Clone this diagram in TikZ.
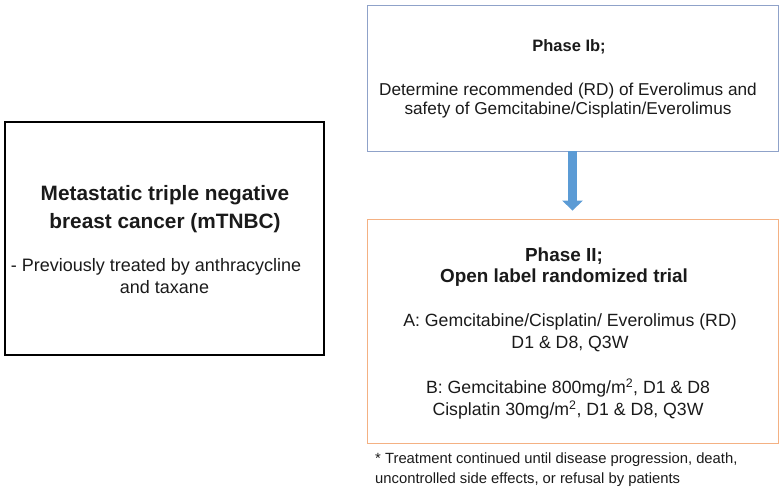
\documentclass[tikz,border=0pt]{standalone}
\usepackage{fontspec}
\setmainfont{Liberation Sans}
\usetikzlibrary{arrows.meta}
\definecolor{topedge}{HTML}{8FA2C9}
\definecolor{botedge}{HTML}{F4B183}
\definecolor{arrowblue}{HTML}{5B9BD5}
\definecolor{txt}{HTML}{1A1A1A}
\begin{document}
\begin{tikzpicture}[x=1pt,y=-1pt,
  box/.style={draw, inner sep=0pt},
  lbl/.style={align=center, inner sep=0pt, text=txt},
  boldbig/.style={lbl, font=\fontsize{20.8}{28}\selectfont\bfseries},
  boldmid/.style={lbl, font=\fontsize{18.9}{21}\selectfont\bfseries},
  boldsmall/.style={lbl, font=\fontsize{16.5}{19}\selectfont\bfseries},
  lefttext/.style={lbl, font=\fontsize{18}{22}\selectfont},
  regtext/.style={lbl, font=\fontsize{17.7}{22}\selectfont},
  toptext/.style={lbl, font=\fontsize{17.2}{19}\selectfont},
  flow/.style={draw=arrowblue, line width=9pt, -{Triangle[width=20pt,length=10pt]}, color=arrowblue}
]
\useasboundingbox (0,0) rectangle (783,497);
% left box
\node[box, line width=1.6pt, draw=black, minimum width=319pt, minimum height=233pt]
  (mtnbc) at (164.5,238.5) {};
\node[boldbig] (mtnbcT) at (165,209) {Metastatic triple negative\\ breast cancer (mTNBC)};
\node[lefttext, anchor=base] (mtnbcS1) at (156,271) {- Previously treated by anthracycline};
\node[lefttext, anchor=base] (mtnbcS2) at (164.5,293) {and taxane};
% top box
\node[box, line width=0.8pt, draw=topedge, minimum width=411pt, minimum height=146pt]
  (ph1) at (572.5,78) {};
\node[boldsmall] (ph1T) at (569,47) {Phase Ib;};
\node[toptext] (ph1S) at (568,101) {Determine recommended (RD) of Everolimus and\\ safety of Gemcitabine/Cisplatin/Everolimus};
% bottom box
\node[box, line width=0.8pt, draw=botedge, minimum width=411pt, minimum height=224pt]
  (ph2) at (572.5,331) {};
\node[boldmid] (ph2T) at (564,267.5) {Phase II;\\ Open label randomized trial};
\node[regtext] (armA) at (570,332.5) {A: Gemcitabine/Cisplatin/ Everolimus (RD)\\ D1 \& D8, Q3W};
\node[regtext] (armB) at (568,399) {B: Gemcitabine 800mg/m\textsuperscript{2}, D1 \& D8\\ Cisplatin 30mg/m\textsuperscript{2}, D1 \& D8, Q3W};
% arrow
\draw[flow, shorten >=8pt] (ph1.south) -- (ph2.north);
% footnote
\node[anchor=west, align=left, inner sep=0pt, text=txt, font=\fontsize{14.8}{20}\selectfont]
  (note) at (375,470)
  {* Treatment continued until disease progression, death,\\ uncontrolled side effects, or refusal by patients};
\end{tikzpicture}
\end{document}
